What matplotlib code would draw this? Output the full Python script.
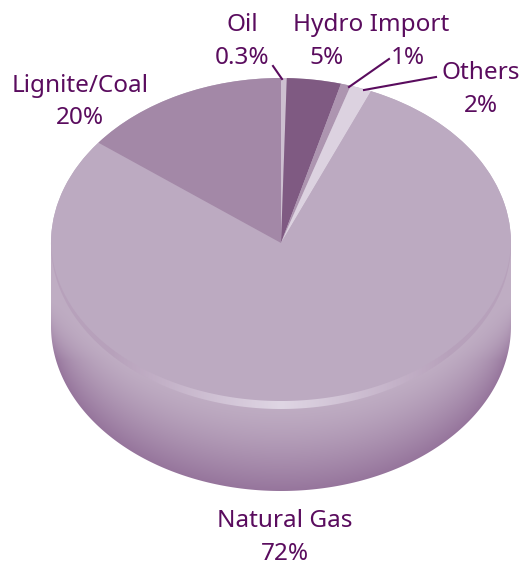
import numpy as np
import matplotlib
matplotlib.use('Agg')
import matplotlib.pyplot as plt
from matplotlib.colors import to_rgb
from matplotlib.lines import Line2D
from matplotlib.patches import Polygon

# clockwise from 12 o'clock, printed labels and the share of the ellipse each slice really takes
categories = ['Oil', 'Hydro', 'Hydro Import', 'Others', 'Natural Gas', 'Lignite/Coal']
printed_pct = ['0.3%', '5%', '1%', '2%', '72%', '20%']
drawn_share = [0.4, 3.8, 0.7, 1.5, 79.0, 14.6]
slice_colors = ['#cdbfd0', '#7f5a82', '#ad95b0', '#dcd2e0', '#bcaac1', '#a388a7']

WIDTH, HEIGHT = 519, 567
CX, CY = 281, 243
RX, RY = 230, 165
TEXT_COLOR = '#5a0c5e'

plt.rcParams['font.family'] = ['Noto Sans', 'DejaVu Sans']


def to_x(px):
    return (px - CX) / RX


def to_y(py):
    return (CY - py) / RY


def side_image():
    # shading of the rim: pale near the top face, dark towards the bottom edge
    xx, yy = np.meshgrid(np.arange(WIDTH) + 0.5, np.arange(HEIGHT) + 0.5)
    u = np.clip((xx - CX) / RX, -1, 1)
    edge = 326 + RY * np.sqrt(1 - u ** 2)
    shade = np.clip(1 - (edge - yy) / 85, 0, 1) ** 1.3
    shade = shade * np.clip((yy - 300) / 60, 0, 1)
    pale = np.array(to_rgb('#bfadc3'))
    dark = np.array(to_rgb('#96759c'))
    return pale + (dark - pale) * shade[..., None]


def lip_image():
    # light band under the front edge, fading out to the sides
    xx = np.arange(WIDTH) + 0.5
    t = np.clip(1 - np.abs(xx - CX) / 170, 0, 1)[None, :, None]
    side = np.array(to_rgb('#b7a1bb'))
    mid = np.array(to_rgb('#dfd6e4'))
    return np.repeat(side + (mid - side) * t, HEIGHT, axis=0)


fig = plt.figure(figsize=(WIDTH / 100, HEIGHT / 100), dpi=100)
ax = fig.add_axes([0, 0, 1, 1])

wedges, _ = ax.pie(drawn_share, colors=slice_colors, startangle=90, counterclock=False,
                   radius=1, center=(0, 0))
for w in wedges:
    w.set_zorder(3)
    w.set_linewidth(0)

extent = (to_x(0), to_x(WIDTH), to_y(HEIGHT), to_y(0))

# rim outline: upper half of the top ellipse and lower half of the bottom one
t = np.linspace(0, 2 * np.pi, 400)
outline = np.column_stack([np.cos(t), np.where(np.sin(t) > 0, np.sin(t),
                                               np.sin(t) + to_y(326))])
rim = Polygon(outline, closed=True, transform=ax.transData, fc='none', ec='none')
ax.add_patch(rim)
img = ax.imshow(side_image(), extent=extent, aspect='auto', zorder=1)
img.set_clip_path(rim)

# crescent between the shorter front of the top face and the real front edge
t = np.linspace(np.pi, 2 * np.pi, 200)
outer = np.column_stack([np.cos(t), np.sin(t) * 166 / RY])
inner = np.column_stack([np.cos(t[::-1]), to_y(239.5) + np.sin(t[::-1]) * 161.5 / RY])
crescent = Polygon(np.vstack([outer, inner]), closed=True, transform=ax.transData,
                   fc='none', ec='none')
ax.add_patch(crescent)
img2 = ax.imshow(lip_image(), extent=extent, aspect='auto', zorder=4)
img2.set_clip_path(crescent)

ax.set_xlim(extent[0], extent[1])
ax.set_ylim(extent[2], extent[3])
ax.set_aspect('auto')
ax.axis('off')


def label(px, py, s):
    fig.text(px / WIDTH, 1 - py / HEIGHT, s, color=TEXT_COLOR, fontsize=17.5,
             fontweight='medium', ha='center', va='center')


def leader(x0, y0, x1, y1):
    fig.add_artist(Line2D([x0 / WIDTH, x1 / WIDTH], [1 - y0 / HEIGHT, 1 - y1 / HEIGHT],
                          color=TEXT_COLOR, lw=1.5))


label(242, 25, categories[0])
label(242, 58, printed_pct[0])
label(371, 25, categories[2])
label(327, 58, printed_pct[1])
label(408, 58, printed_pct[2])
label(481, 73, categories[3])
label(481, 106, printed_pct[3])
label(285, 521, categories[4])
label(285, 554, printed_pct[4])
label(80, 86, categories[5])
label(80, 118, printed_pct[5])

leader(273, 66, 282, 79)
leader(389, 59, 349, 87)
leader(436, 77, 364, 90)

fig.savefig('out.png', dpi=100)
